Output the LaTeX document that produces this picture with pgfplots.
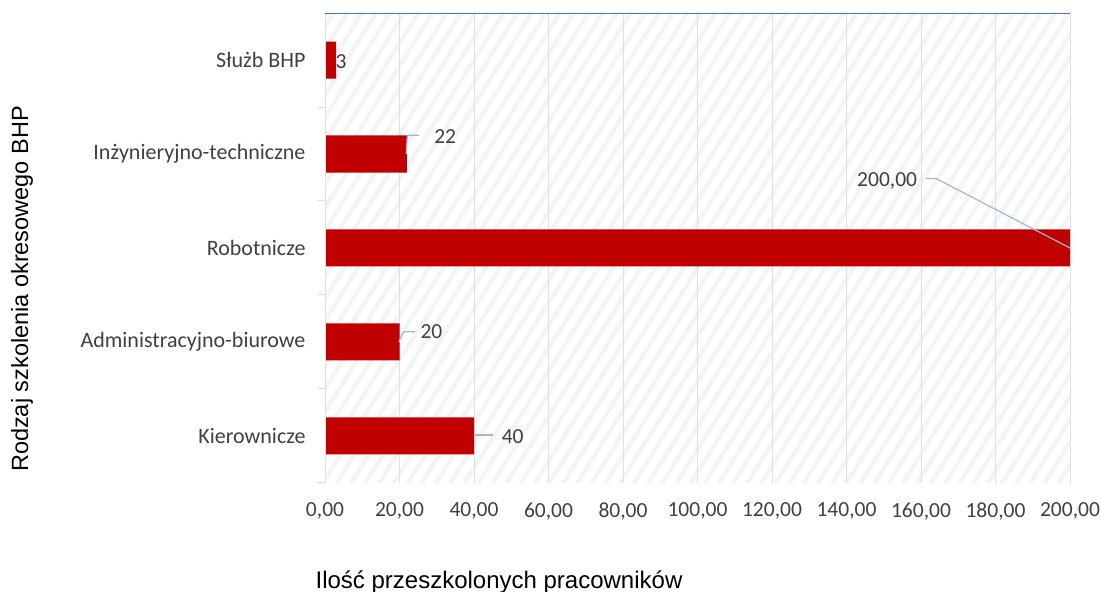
\documentclass[border=0pt]{standalone}
\usepackage{pgfplots}
\pgfplotsset{compat=1.18}
\usepackage{fontspec}
\setmainfont{Carlito}
\newfontfamily\titlefont{Liberation Sans}
\usetikzlibrary{patterns.meta}
\definecolor{barred}{RGB}{192,0,0}
\definecolor{txtgray}{RGB}{64,64,64}
\definecolor{gridc}{RGB}{220,225,233}
\definecolor{topblue}{RGB}{68,114,196}
\definecolor{leader}{RGB}{166,182,204}
\definecolor{hatch}{RGB}{244,244,244}

\begin{document}
\begin{tikzpicture}
\begin{axis}[
    set layers,
    at={(325pt,109pt)}, anchor=south west,
    scale only axis,
    width=745pt, height=470pt,
    xbar, bar width=37pt,
    xmin=0, xmax=200,
    ymin=-0.5, ymax=4.5,
    xtick={0,20,...,200},
    ytick={0,1,2,3,4},
    yticklabels={Kierownicze,Administracyjno-biurowe,Robotnicze,Inżynieryjno-techniczne,Służb BHP},
    minor ytick={-0.5,0.5,1.5,2.5,3.5},
    ytick pos=left,
    major tick length=0pt,
    minor tick length=8pt,
    tick align=outside,
    minor tick style={draw=gridc, line width=1pt},
    xmajorgrids,
    major grid style={draw=gridc, line width=1pt},
    axis line style={draw=none},
    x tick label style={
        /pgf/number format/.cd, fixed, fixed zerofill, precision=2, use comma,
        1000 sep={}, /tikz/.cd},
    xticklabel style={font=\fontsize{21.5}{24}\selectfont, text=txtgray, yshift=-16pt},
    yticklabel style={font=\fontsize{22}{24}\selectfont, text=txtgray, xshift=-16pt},
    /pgf/number format/assume math mode=true,
]
\begin{pgfonlayer}{axis background}
\fill[pattern={Lines[angle=58,distance=12pt,line width=4.5pt]}, pattern color=hatch]
    (rel axis cs:0,0) rectangle (rel axis cs:1,1);
\end{pgfonlayer}
\addplot[fill=barred, draw=none] coordinates {(40,0) (20,1) (200,2) (22,3) (3,4)};
% axis lines
\draw[gridc, line width=1.2pt] (rel axis cs:0,0) -- (rel axis cs:0,1);
\draw[topblue, line width=1.5pt] (rel axis cs:0,1) -- (rel axis cs:1,1);
% leader lines
\draw[leader, line width=1.2pt] (axis cs:21.8,3.0) -- (axis cs:22.1,3.2) -- (axis cs:25.3,3.2);
\draw[leader, line width=1.2pt] (axis cs:19.8,1.0) -- (axis cs:21.1,1.11) -- (axis cs:24.1,1.11);
\draw[leader, line width=1.2pt] (axis cs:40.3,0.01) -- (axis cs:45.1,0.01);
\draw[leader, line width=1.2pt] (axis cs:161.3,2.74) -- (axis cs:164,2.74) -- (axis cs:200,2.0);
% data labels
\begin{scope}[every node/.style={font=\fontsize{21.5}{24}\selectfont, text=txtgray, inner sep=0pt}]
\node[anchor=west] at (axis cs:2.8,3.98) {3};
\node[anchor=west] at (axis cs:29.3,3.19) {22};
\node[anchor=west] at (axis cs:25.6,1.11) {20};
\node[anchor=west] at (axis cs:47.4,-0.01) {40};
\node[anchor=east] at (axis cs:159.0,2.71) {200,00};
\end{scope}
\end{axis}
\node[font=\titlefont\fontsize{24}{28}\selectfont, anchor=center] at (499pt,10pt) {Ilość przeszkolonych pracowników};
\node[font=\titlefont\fontsize{23.5}{28}\selectfont, anchor=center, rotate=90] at (22pt,303pt) {Rodzaj szkolenia okresowego BHP};
\pgfresetboundingbox
\useasboundingbox (0,0) rectangle (1101pt,592pt);
\end{tikzpicture}
\end{document}
